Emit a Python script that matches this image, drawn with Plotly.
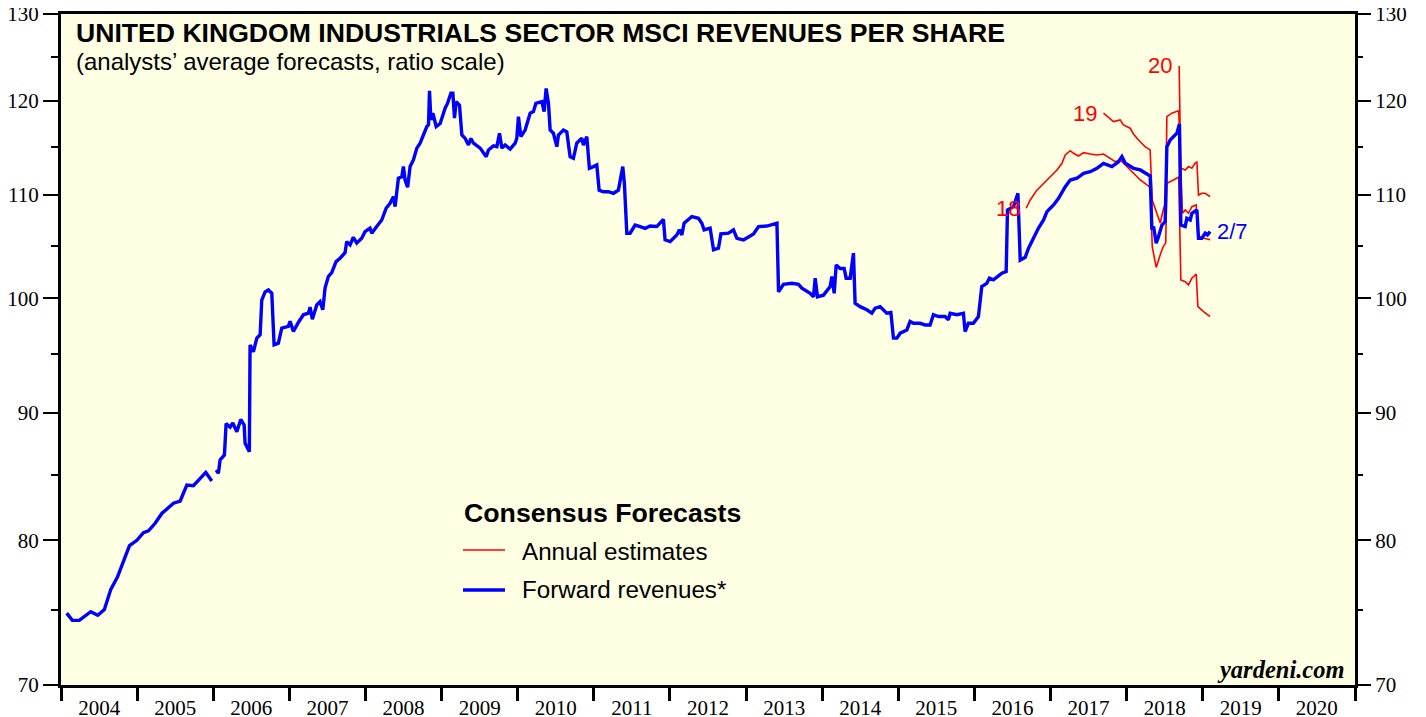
import math
from datetime import datetime
import plotly.graph_objects as go

# ---------------- data (decimal years, values) ----------------
blue_t = [2004.075, 2004.148, 2004.240, 2004.390, 2004.482, 2004.569, 2004.653, 2004.740, 2004.898, 2004.995,
          2005.081, 2005.147, 2005.235, 2005.323, 2005.476, 2005.564, 2005.652, 2005.738, 2005.901, 2005.980,
          2006.010,
          2006.037, 2006.067, 2006.089, 2006.146, 2006.168, 2006.221, 2006.256, 2006.309, 2006.361, 2006.405,
          2006.418, 2006.474, 2006.483, 2006.527, 2006.572, 2006.616, 2006.637, 2006.681, 2006.724, 2006.769,
          2006.799, 2006.855, 2006.900, 2006.987, 2007.009, 2007.053, 2007.118, 2007.184, 2007.250, 2007.272,
          2007.302, 2007.360, 2007.403, 2007.439, 2007.469, 2007.512, 2007.557, 2007.614, 2007.666, 2007.732,
          2007.754, 2007.798, 2007.841, 2007.886, 2007.951, 2007.995, 2008.060, 2008.083, 2008.148, 2008.214,
          2008.271, 2008.323, 2008.367, 2008.389, 2008.432, 2008.477, 2008.498, 2008.520, 2008.553, 2008.586,
          2008.629, 2008.674, 2008.717, 2008.761, 2008.805, 2008.827, 2008.840, 2008.858, 2008.884, 2008.928,
          2008.980, 2009.046, 2009.076, 2009.121, 2009.147, 2009.168, 2009.190, 2009.234, 2009.265, 2009.309,
          2009.352, 2009.384, 2009.418, 2009.506, 2009.585, 2009.615, 2009.681, 2009.725, 2009.760, 2009.791,
          2009.834, 2009.900, 2009.966, 2009.988, 2010.009, 2010.041, 2010.097, 2010.163, 2010.206, 2010.238,
          2010.317, 2010.347, 2010.373, 2010.404, 2010.426, 2010.469, 2010.514, 2010.535, 2010.600, 2010.645,
          2010.688, 2010.732, 2010.776, 2010.842, 2010.863, 2010.908, 2010.942, 2010.995, 2011.039, 2011.070,
          2011.126, 2011.192, 2011.258, 2011.323, 2011.381, 2011.402, 2011.434, 2011.477, 2011.543, 2011.609,
          2011.675, 2011.740, 2011.828, 2011.915, 2011.937, 2012.003, 2012.091, 2012.125, 2012.157, 2012.187,
          2012.288, 2012.375, 2012.419, 2012.449, 2012.528, 2012.572, 2012.637, 2012.669, 2012.769, 2012.834,
          2012.879, 2012.966, 2013.031, 2013.097, 2013.163, 2013.273, 2013.405, 2013.426, 2013.491, 2013.601,
          2013.688, 2013.733, 2013.842, 2013.886, 2013.908, 2013.938, 2014.017, 2014.062, 2014.105, 2014.127,
          2014.158, 2014.184, 2014.236, 2014.289, 2014.315, 2014.368, 2014.411, 2014.433, 2014.499, 2014.587,
          2014.653, 2014.696, 2014.762, 2014.848, 2014.903, 2014.937, 2014.982, 2015.025, 2015.113, 2015.156,
          2015.200, 2015.288, 2015.353, 2015.419, 2015.462, 2015.528, 2015.616, 2015.659, 2015.682, 2015.770,
          2015.857, 2015.879, 2015.922, 2015.988, 2016.054, 2016.098, 2016.164, 2016.198, 2016.251, 2016.317,
          2016.361, 2016.418, 2016.435, 2016.514, 2016.572, 2016.602, 2016.668, 2016.711, 2016.777, 2016.842,
          2016.908, 2016.953, 2016.996, 2017.040, 2017.105, 2017.193, 2017.259, 2017.347, 2017.434, 2017.522,
          2017.610, 2017.696, 2017.807, 2017.894, 2017.938, 2017.982, 2018.091, 2018.179, 2018.310, 2018.332,
          2018.354, 2018.389, 2018.419, 2018.464, 2018.507, 2018.529, 2018.573, 2018.616, 2018.661, 2018.695,
          2018.713, 2018.770, 2018.792, 2018.836, 2018.858, 2018.924, 2018.945, 2018.989, 2019.033, 2019.063,
          2019.098]
blue_v = [74.8, 74.3, 74.3, 74.9, 74.65, 75.05, 76.46, 77.33, 79.6, 80.0,
          80.56, 80.7, 81.26, 82.0, 82.78, 82.95, 84.18, 84.13, 85.17, 84.5,
          None,
          85.35, 85.1, 86.15, 86.55, 89.1, 88.8, 89.15, 88.43, 89.43, 88.98,
          87.48, 86.8, 95.8, 95.2, 96.4, 96.7, 99.85, 100.6, 100.78, 100.47,
          95.8, 95.95, 97.3, 97.45, 97.9, 97.0, 97.8, 98.5, 98.64, 99.2,
          98.1, 99.4, 99.7, 98.95, 100.95, 102.03, 102.4, 103.45, 103.78, 104.3,
          105.38, 105.06, 105.8, 105.23, 105.7, 106.35, 106.7, 106.2, 106.85, 107.5,
          108.67, 109.17, 109.84, 108.83, 111.72, 111.88, 112.93, 111.54, 110.8, 112.93,
          113.62, 114.87, 115.39, 116.27, 117.18, 117.36, 121.1, 117.9, 118.63, 117.18,
          117.5, 119.2, 119.7, 120.84, 120.84, 118.1, 119.9, 119.5, 116.27, 115.9,
          115.2, 115.9, 115.39, 114.87, 113.97, 114.68, 115.1, 115.02, 116.46, 114.87,
          115.2, 114.76, 115.39, 115.93, 118.25, 116.1, 116.8, 118.63, 118.8, 119.7,
          119.9, 118.8, 121.37, 119.7, 116.8, 116.46, 115.02, 116.27, 116.8, 116.6,
          113.97, 113.8, 115.39, 115.93, 115.2, 116.1, 112.75, 112.93, 113.1, 110.5,
          110.34, 110.34, 110.18, 110.5, 112.93, 111.2, 106.2, 106.2, 107.0, 106.85,
          106.67, 106.9, 106.85, 107.57, 105.55, 105.38, 106.03, 106.53, 106.03, 107.18,
          107.84, 107.67, 107.18, 106.53, 106.7, 104.58, 104.74, 106.13, 106.2, 106.53,
          105.7, 105.55, 105.86, 106.13, 106.85, 106.9, 107.18, 100.6, 101.3, 101.4,
          101.3, 100.95, 100.47, 100.15, 101.88, 100.15, 100.3, 100.78, 101.1, 102.03,
          100.47, 103.13, 102.8, 102.8, 101.88, 101.88, 104.26, 99.55, 99.24, 98.95,
          98.64, 99.1, 99.24, 98.64, 98.7, 96.4, 96.4, 96.84, 97.13, 97.9,
          97.73, 97.73, 97.58, 97.58, 98.5, 98.34, 98.34, 98.04, 98.64, 98.5,
          98.64, 96.98, 97.73, 97.73, 98.34, 101.1, 101.4, 101.88, 101.72, 102.1,
          102.35, 102.5, 108.5, 108.83, 110.18, 103.6, 103.87, 104.74, 105.74, 106.7,
          107.5, 108.33, 108.67, 109.0, 109.67, 110.86, 111.54, 111.72, 112.23, 112.4,
          112.75, 113.27, 112.93, 113.44, 113.97, 113.27, 112.75, 112.58, 111.95, 106.53,
          106.85, 105.23, 105.86, 107.0, 107.34, 115.02, 115.74, 116.1, 116.46, 117.46,
          107.0, 106.85, 107.67, 107.5, 108.17, 108.5, 105.7, 105.7, 106.2, 106.03,
          106.35]

est18_t = [2016.680, 2016.733, 2016.821, 2016.908, 2016.996, 2017.084, 2017.150, 2017.193, 2017.259, 2017.302,
           2017.368, 2017.434, 2017.522, 2017.610, 2017.696, 2017.784, 2017.850, 2017.916, 2018.004, 2018.091,
           2018.179, 2018.267, 2018.310, 2018.337, 2018.389, 2018.442, 2018.481, 2018.514, 2018.529, 2018.616,
           2018.685, 2018.713, 2018.770, 2018.813, 2018.858, 2018.915, 2018.937, 2019.011, 2019.098]
est18_v = [108.67, 109.5, 110.5, 111.2, 111.88, 112.58, 113.27, 114.15, 114.6, 114.32,
           114.04, 114.39, 114.25, 114.15, 114.25, 113.8, 113.44, 113.62, 112.93, 112.23,
           111.54, 111.03, 110.8, 104.87, 102.9, 104.1, 104.87, 105.26, 111.2, 111.54,
           111.85, 101.72, 101.55, 101.25, 101.88, 102.28, 99.24, 98.79, 98.34]

est19_t = [2017.696, 2017.761, 2017.827, 2017.915, 2017.958, 2018.046, 2018.090, 2018.156, 2018.200, 2018.243,
           2018.309, 2018.337, 2018.396, 2018.442, 2018.481, 2018.514, 2018.529, 2018.600, 2018.685, 2018.734,
           2018.770, 2018.813, 2018.858, 2018.915, 2018.937, 2019.011, 2019.098]
est19_v = [118.63, 118.2, 117.72, 117.9, 117.36, 117.0, 116.38, 115.74, 115.39, 115.02,
           114.68, 109.5, 108.2, 107.2, 108.5, 109.3, 118.25, 118.66, 118.9, 108.17,
           108.5, 108.17, 108.83, 109.0, 105.86, 105.7, 105.55]

est20_t = [2018.691, 2018.711, 2018.770, 2018.813, 2018.858, 2018.900, 2018.924, 2018.945, 2018.989, 2019.033,
           2019.098]
est20_v = [123.9, 112.79, 112.58, 112.93, 112.75, 113.3, 113.4, 110.0, 110.18, 110.18,
           109.84]

y_ticks = [70, 80, 90, 100, 110, 120, 130]
y_minor = [75, 85, 95, 105, 115, 125]


def to_date(t):
    y = int(math.floor(t))
    a = datetime(y, 1, 1)
    b = datetime(y + 1, 1, 1)
    return a + (b - a) * (t - y)


BG = "#FFFFE3"
fig = go.Figure()

for tt, vv in [(est18_t, est18_v), (est19_t, est19_v), (est20_t, est20_v)]:
    fig.add_trace(go.Scatter(x=[to_date(t) for t in tt], y=vv, mode="lines",
                             line=dict(color="#FF0000", width=1.6), hoverinfo="skip",
                             showlegend=False))

fig.add_trace(go.Scatter(x=[to_date(t) for t in blue_t], y=blue_v, mode="lines",
                         line=dict(color="#0000FF", width=3.4), connectgaps=False,
                         showlegend=False))

# invisible trace to anchor right axis
fig.add_trace(go.Scatter(x=[to_date(blue_t[0])], y=[blue_v[0]], yaxis="y2", mode="lines",
                         line=dict(width=0), hoverinfo="skip", showlegend=False))

ylog = [math.log10(70), math.log10(130)]
yax_common = dict(type="log", range=ylog, tickmode="array", tickvals=y_ticks,
                  ticktext=[str(v) for v in y_ticks], ticks="outside", ticklen=15,
                  tickwidth=1.5, tickcolor="black", showgrid=False, zeroline=False,
                  automargin=False, ticklabeloverflow="allow",
                  tickfont=dict(family="Liberation Serif", size=21, color="black"),
                  minor=dict(tickmode="array", tickvals=y_minor, ticks="outside", ticklen=7,
                             tickwidth=1.5, tickcolor="black", showgrid=False))

# page body has an 8px default margin: plot area spans x 61..1355, y 14..685 on screen
OFF = 8
fig.update_layout(
    width=1426, height=717,
    margin=dict(l=61 - OFF, r=1426 + OFF - 1355, t=14 - OFF, b=717 + OFF - 685),
    paper_bgcolor="white", plot_bgcolor=BG,
    showlegend=False,
    xaxis=dict(type="date", range=[datetime(2004, 1, 1), datetime(2021, 1, 1)],
               tick0="2004-01-01", dtick="M12", tickformat="%Y", ticklabelmode="period",
               ticks="outside", ticklen=13, tickwidth=3, tickcolor="black",
               showline=True, linewidth=3, linecolor="black", mirror=True,
               showgrid=False, zeroline=False, automargin=False,
               ticklabelstandoff=-11, ticklabeloverflow="allow",
               tickfont=dict(family="Liberation Serif", size=21, color="black")),
    yaxis=dict(**yax_common, side="left", showline=True, linewidth=3, linecolor="black",
               mirror=True),
    yaxis2=dict(**yax_common, side="right", overlaying="y", showline=False),
)

def px(x):
    return (x - 61) / 1294.0

def py(y):
    return (685 - y) / 671.0

ann = [
    dict(text="<b>UNITED KINGDOM INDUSTRIALS SECTOR MSCI REVENUES PER SHARE</b>", x=px(74), y=py(33),
         font=dict(family="Liberation Sans", size=26.6, color="black"), xanchor="left"),
    dict(text="(analysts\u2019 average forecasts, ratio scale)", x=px(74), y=py(62),
         font=dict(family="Liberation Sans", size=24, color="black"), xanchor="left"),
    dict(text="<b>Consensus Forecasts</b>", x=px(462), y=py(513),
         font=dict(family="Liberation Sans", size=26.7, color="black"), xanchor="left"),
    dict(text="Annual estimates", x=px(520), y=py(551),
         font=dict(family="Liberation Sans", size=24.2, color="black"), xanchor="left"),
    dict(text="Forward revenues*", x=px(520), y=py(589),
         font=dict(family="Liberation Sans", size=24.2, color="black"), xanchor="left"),
    dict(text="<b><i>yardeni.com</i></b>", x=px(1347), y=py(669),
         font=dict(family="Liberation Serif", size=24.5, color="black"), xanchor="right"),
    dict(text="18", x=px(1008), y=py(209), font=dict(family="Liberation Sans", size=22, color="#FF0000")),
    dict(text="19", x=px(1085), y=py(113), font=dict(family="Liberation Sans", size=22, color="#FF0000")),
    dict(text="20", x=px(1160), y=py(66), font=dict(family="Liberation Sans", size=22, color="#FF0000")),
    dict(text="2/7", x=px(1232), y=py(232), font=dict(family="Liberation Sans", size=22, color="#0000FF")),
]
for a in ann:
    a.update(xref="paper", yref="paper", showarrow=False, yanchor="middle")
    a.setdefault("xanchor", "center")
    fig.add_annotation(**a)

fig.add_shape(type="line", xref="paper", yref="paper", x0=px(463), x1=px(505), y0=py(550), y1=py(550),
              line=dict(color="#FF0000", width=1.6))
fig.add_shape(type="line", xref="paper", yref="paper", x0=px(463), x1=px(505), y0=py(590), y1=py(590),
              line=dict(color="#0000FF", width=3.4))

fig.write_html("out.html")
